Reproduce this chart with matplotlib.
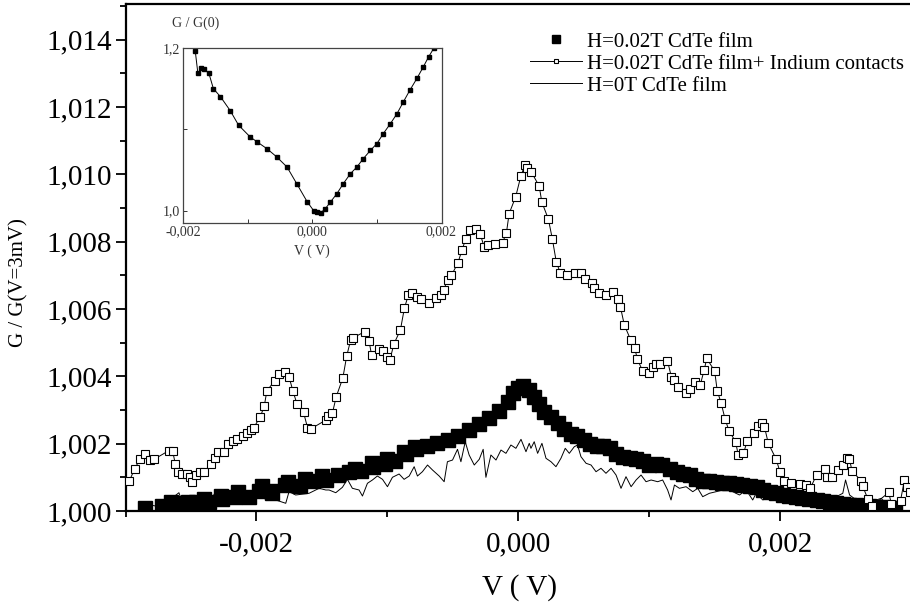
import matplotlib
matplotlib.use('Agg')
import matplotlib.pyplot as plt
from matplotlib.ticker import MultipleLocator, FixedLocator, FuncFormatter

plt.rcParams['font.family'] = ['Liberation Serif', 'DejaVu Serif']

# H=0.02T CdTe film (dense filled squares)
v_film = [-0.00285, -0.00272, -0.00265, -0.00264, -0.00257, -0.00252, -0.00246, -0.0024,
          -0.00236, -0.00227, -0.00226, -0.00216, -0.00214, -0.00206, -0.00198, -0.00196,
          -0.00189, -0.00188, -0.00178, -0.00176, -0.00167, -0.00163, -0.00157, -0.0015,
          -0.00147, -0.00138, -0.00129, -0.00125, -0.0012, -0.00112, -0.00111, -0.00102,
          -0.001, -0.00094, -0.00087, -0.00086, -0.00079, -0.00078, -0.0007, -0.00062,
          -0.00054, -0.00046, -0.00038, -0.0003, -0.00022, -0.00015, -0.00008, -0.00004,
          0.0, 0.00004, 0.00008, 0.00012, 0.00016, 0.0002, 0.00025, 0.0003, 0.00035,
          0.0004, 0.00045, 0.0005, 0.00055, 0.0006, 0.00065, 0.0007, 0.00075, 0.0008,
          0.00085, 0.0009, 0.00095, 0.001, 0.00105, 0.0011, 0.00116, 0.00121, 0.00126,
          0.00131, 0.00136, 0.00141, 0.00146, 0.00151, 0.00156, 0.00161, 0.00166, 0.00171,
          0.00177, 0.00182, 0.00187, 0.00192, 0.00197, 0.00202, 0.00207, 0.00212, 0.00217,
          0.00222, 0.00228, 0.00233, 0.00238, 0.00243, 0.00248, 0.00253, 0.00258, 0.00263,
          0.00268, 0.00273, 0.00278, 0.00284, 0.00288]
g_film = [1.00009, 1.00016, 1.00027, 1.00025, 1.00021, 1.00027, 1.00028, 1.00036,
          1.00027, 1.00045, 1.00037, 1.00043, 1.00056, 1.00042, 1.0006, 1.00075,
          1.0006, 1.00053, 1.00077, 1.00086, 1.00075, 1.00095, 1.0009, 1.00105,
          1.00092, 1.00108, 1.00115, 1.00125, 1.00118, 1.00144, 1.0013, 1.0014,
          1.00154, 1.00148, 1.00174, 1.0017, 1.00189, 1.00185, 1.00192, 1.00202,
          1.00212, 1.00222, 1.0024, 1.00258, 1.00275, 1.00298, 1.00325, 1.0035,
          1.00365, 1.0037, 1.0036, 1.0034, 1.00318, 1.00295, 1.00278, 1.00262, 1.00245,
          1.0023, 1.00222, 1.00212, 1.002, 1.00194, 1.00192, 1.00186, 1.0017, 1.0016,
          1.00158, 1.00155, 1.0015, 1.00138, 1.0014, 1.00137, 1.00125, 1.00115, 1.0011,
          1.00107, 1.00095, 1.0009, 1.0009, 1.00087, 1.00084, 1.00082, 1.0008, 1.00077,
          1.00073, 1.0007, 1.00063, 1.00057, 1.00052, 1.00048, 1.00044, 1.00041, 1.00038,
          1.00036, 1.00033, 1.0003, 1.00027, 1.00025, 1.00022, 1.00019, 1.00017, 1.00016,
          1.00014, 1.00012, 1.00011, 1.0001, 1.00008]

# H=0.02T CdTe film + Indium contacts (open squares)
v_indium = [-0.00297, -0.00293, -0.00289, -0.00285, -0.00281, -0.00278, -0.00267, -0.00264,
            -0.00262, -0.0026, -0.00257, -0.00253, -0.00251, -0.00249, -0.00246, -0.00243,
            -0.0024, -0.00235, -0.00232, -0.00229, -0.00225, -0.00222, -0.00218, -0.00215,
            -0.0021, -0.00207, -0.00204, -0.00202, -0.00197, -0.00194, -0.00192, -0.00186,
            -0.00183, -0.00178, -0.00175, -0.00172, -0.00169, -0.00164, -0.00161, -0.00158,
            -0.00147, -0.00145, -0.00142, -0.00139, -0.00134, -0.00131, -0.00128, -0.00126,
            -0.00117, -0.00114, -0.00112, -0.00106, -0.00103, -0.001, -0.00098, -0.00095,
            -0.0009, -0.00087, -0.00084, -0.00081, -0.00077, -0.00074, -0.00068, -0.00063,
            -0.00059, -0.00057, -0.00054, -0.00051, -0.00046, -0.00043, -0.0004, -0.00037,
            -0.00032, -0.00029, -0.00026, -0.00023, -0.00018, -0.00012, -0.00009, -0.00007,
            -0.00002, 0.00002, 0.00005, 0.00007, 0.0001, 0.00016, 0.00018, 0.00023, 0.00026,
            0.00029, 0.00032, 0.00037, 0.00043, 0.00048, 0.00051, 0.00056, 0.00058, 0.00062,
            0.00067, 0.00072, 0.00076, 0.00078, 0.00081, 0.00086, 0.00089, 0.00091, 0.00095,
            0.001, 0.00103, 0.00105, 0.00108, 0.00114, 0.00117, 0.00119, 0.00122, 0.00128,
            0.00131, 0.00135, 0.00139, 0.00142, 0.00144, 0.0015, 0.00152, 0.00155, 0.00158,
            0.00161, 0.00166, 0.00168, 0.00172, 0.00175, 0.0018, 0.00183, 0.00186, 0.00188,
            0.00191, 0.00197, 0.002, 0.00203, 0.00208, 0.00215, 0.0022, 0.00223, 0.00228,
            0.00234, 0.00236, 0.0024, 0.00244, 0.00248, 0.00251, 0.00253, 0.00255, 0.00262,
            0.00263, 0.00267, 0.0027, 0.00283, 0.00285, 0.00292, 0.00295, 0.00297, 0.00299]
g_indium = [1.0009, 1.00125, 1.00154, 1.00169, 1.00152, 1.00154, 1.00179, 1.00179,
            1.0014, 1.00115, 1.0011, 1.0011, 1.001, 1.00087, 1.00107, 1.00115,
            1.00115, 1.0014, 1.00156, 1.00174, 1.00176, 1.00199, 1.00209, 1.00214,
            1.00222, 1.00231, 1.00241, 1.00248, 1.0028, 1.00312, 1.00357, 1.00387,
            1.00407, 1.00412, 1.00397, 1.00355, 1.00318, 1.00293, 1.00248, 1.00245,
            1.0027, 1.00283, 1.0029, 1.0034, 1.00395, 1.00461, 1.00508, 1.00515,
            1.00533, 1.00505, 1.00463, 1.00481, 1.00474, 1.00456, 1.00449, 1.00496,
            1.00538, 1.00602, 1.00641, 1.00647, 1.00637, 1.00629, 1.00619, 1.00632,
            1.00641, 1.00657, 1.00686, 1.007, 1.00738, 1.00775, 1.00809, 1.00834,
            1.00839, 1.00822, 1.00784, 1.0079, 1.00792, 1.00797, 1.00827, 1.00883,
            1.00933, 1.00995, 1.01027, 1.0102, 1.01007, 1.00965, 1.00918, 1.00867, 1.00809,
            1.00741, 1.00708, 1.00701, 1.00708, 1.00706, 1.0069, 1.00677, 1.00661, 1.00649,
            1.00641, 1.00651, 1.00631, 1.00607, 1.00553, 1.00507, 1.00483, 1.00451, 1.00416,
            1.00409, 1.00428, 1.00436, 1.00438, 1.00446, 1.00398, 1.0039, 1.00367, 1.0035,
            1.00362, 1.00382, 1.00374, 1.00419, 1.00453, 1.00416, 1.00357, 1.0032, 1.00273,
            1.00238, 1.00206, 1.00167, 1.00171, 1.00209, 1.00231, 1.00253, 1.00261, 1.00251,
            1.00201, 1.00154, 1.00115, 1.0009, 1.00083, 1.0008, 1.00077, 1.00067, 1.00108,
            1.00125, 1.00102, 1.00102, 1.00123, 1.00137, 1.00156, 1.00154, 1.00118, 1.0009,
            1.00075, 1.00036, 1.00014, 1.00055, 1.00021, 1.00031, 1.00092, 1.0007, 1.00055]

# H=0T CdTe film (thin noisy line)
v_zero = [-0.002846, -0.00277, -0.002693, -0.002592, -0.002567, -0.002464, -0.002362, -0.002307,
          -0.002261, -0.002158, -0.002031, -0.001955, -0.001852, -0.001776, -0.001751, -0.0017,
          -0.001598, -0.001521, -0.00147, -0.001445, -0.001394, -0.001343, -0.001305, -0.001267,
          -0.001216, -0.00119, -0.001152, -0.001114, -0.001076, -0.001037, -0.000999, -0.000961,
          -0.00091, -0.000872, -0.000833, -0.000795, -0.00077, -0.000732, -0.000693, -0.000655,
          -0.000604, -0.000566, -0.000541, -0.000502, -0.000464, -0.000438, -0.000405, -0.000375,
          -0.000336, -0.000298, -0.000268, -0.000247, -0.000209, -0.00017, -0.000132, -0.000094,
          -0.000056, -0.000018, 0.000021, 0.000059, 0.000084, 0.000097, 0.000122, 0.000148,
          0.000181, 0.000212, 0.00025, 0.000288, 0.000326, 0.000359, 0.00039, 0.000428,
          0.000453, 0.000479, 0.000518, 0.000556, 0.000594, 0.000632, 0.00067, 0.000709,
          0.000747, 0.000785, 0.000823, 0.000862, 0.0009, 0.000938, 0.000976, 0.001015,
          0.001065, 0.001103, 0.001141, 0.001167, 0.001193, 0.001231, 0.001282, 0.001333,
          0.001371, 0.001409, 0.00146, 0.001511, 0.001562, 0.001613, 0.001638, 0.00169,
          0.001741, 0.001791, 0.001817, 0.001868, 0.001919, 0.00197, 0.002072, 0.002171,
          0.002271, 0.002378, 0.002429, 0.002479, 0.0025, 0.002531, 0.002582, 0.002684,
          0.002735, 0.002773, 0.002811, 0.002862]
g_zero = [1.000208, 1.000148, 1.000229, 1.000543, 1.000276, 1.000229, 1.000178, 1.000624,
          1.000327, 1.000276, 1.000407, 1.000475, 1.000327, 1.000229, 1.000573, 1.000475,
          1.000526, 1.000674, 1.000624, 1.000624, 1.000543, 1.000704, 1.000941, 1.000674,
          1.000624, 1.000445, 1.000823, 1.000921, 1.001039, 1.000941, 1.000722, 1.001001,
          1.001099, 1.000941, 1.001039, 1.001316, 1.001039, 1.001167, 1.001366, 1.001218,
          1.001039, 1.00087, 1.001464, 1.001514, 1.001832, 1.001464, 1.002058, 1.001663,
          1.001366, 1.001535, 1.001832, 1.001001, 1.001663, 1.001514, 1.001811, 1.001713,
          1.00196, 1.001862, 1.002129, 1.001761, 1.00201, 1.001862, 1.002058, 1.001713,
          1.00201, 1.001565, 1.001464, 1.001316, 1.001565, 1.001862, 1.001713, 1.001909,
          1.00196, 1.001613, 1.001417, 1.001366, 1.001167, 1.001268, 1.00112, 1.001268,
          1.001069, 1.000674, 1.001019, 1.000722, 1.000921, 1.001069, 1.00087, 1.000921,
          1.00087, 1.000921, 1.000624, 1.000327, 1.000772, 1.000674, 1.000722, 1.000573,
          1.000674, 1.000425, 1.000526, 1.000573, 1.000624, 1.000644, 1.000573, 1.000475,
          1.000624, 1.000327, 1.000526, 1.000327, 1.000425, 1.000327, 1.000356, 1.000297,
          1.000267, 1.000327, 1.000425, 1.000526, 1.000921, 1.000475, 1.000327, 1.000229,
          1.000327, 1.000377, 1.000178, 1.000128]

# inset: G / G(0)
v_inset = [-0.00181, -0.00177, -0.00172, -0.00168, -0.0016, -0.00153, -0.00142, -0.00127,
           -0.00114, -0.00096, -0.00085, -0.0007, -0.00055, -0.00039, -0.00024, -0.00008,
           0.00002, 0.00008, 0.00013, 0.0002, 0.00028, 0.00038, 0.00048, 0.00059, 0.00069,
           0.00079, 0.0009, 0.001, 0.0011, 0.00121, 0.00131, 0.00141, 0.00151, 0.00162,
           0.00172, 0.0018, 0.00188]
g_inset = [1.196, 1.169, 1.175, 1.174, 1.169, 1.150, 1.140, 1.123,
           1.105, 1.0905, 1.0843, 1.076, 1.066, 1.0535, 1.033, 1.011,
           1.0, 0.998, 0.997, 1.002, 1.0103, 1.0206, 1.033, 1.0453, 1.0535,
           1.0638, 1.074, 1.0823, 1.0947, 1.107, 1.119, 1.1337, 1.148, 1.1626,
           1.177, 1.189, 1.1996]


def comma_fmt(decimals):
    def f(v, pos):
        s = '%.*f' % (decimals, v)
        if s.startswith('-') and float(s) == 0:
            s = s[1:]
        return s.replace('.', ',')
    return FuncFormatter(f)


fig = plt.figure(figsize=(9.1, 6.05), dpi=100, facecolor='white')
ax = fig.add_axes([125.5 / 910, 94 / 605, 785.5 / 910, 507 / 605])

ax.plot(v_film, g_film, linestyle='none', marker='s', ms=9.5, color='black',
        mec='black', label='H=0.02T CdTe film', zorder=2)
ax.plot(v_zero, g_zero, '-', color='black', lw=0.7, label='H=0T CdTe film', zorder=3)
ax.plot(v_indium, g_indium, '-', color='black', lw=0.7, marker='s', ms=5.2,
        mfc='white', mec='black', mew=0.8,
        label='H=0.02T CdTe film+ Indium contacts', zorder=4)

ax.set_xlim(-0.003, 0.003)
ax.set_ylim(1.0, 1.01506)
ax.xaxis.set_major_locator(MultipleLocator(0.002))
ax.xaxis.set_minor_locator(MultipleLocator(0.001))
ax.yaxis.set_major_locator(MultipleLocator(0.002))
ax.yaxis.set_minor_locator(MultipleLocator(0.001))
ax.xaxis.set_major_formatter(comma_fmt(3))
ax.yaxis.set_major_formatter(comma_fmt(3))
ax.tick_params(which='major', direction='out', length=7, width=1.3, labelsize=21, pad=3)
ax.tick_params(which='minor', direction='out', length=4, width=1.3)
ax.tick_params(axis='x', which='major', pad=8)
for side in ['left', 'bottom', 'top']:
    ax.spines[side].set_linewidth(1.6)
ax.spines['right'].set_visible(False)

ax.set_xlabel('V ( V)', fontsize=21)
ax.xaxis.set_label_coords(0.501, -0.124)
ax.set_ylabel('G / G(V=3mV)', fontsize=15)
ax.yaxis.set_label_coords(-0.124, 0.45)

# legend in reference order
h, l = ax.get_legend_handles_labels()
order = [0, 2, 1]
leg = ax.legend([h[i] for i in order], [l[i] for i in order], loc='upper left',
                bbox_to_anchor=(530 / 910, 1 - 32 / 605), bbox_transform=fig.transFigure,
                frameon=False, fontsize=15, handlelength=2.5, handletextpad=0.25,
                labelspacing=0.12, borderpad=0, borderaxespad=0, numpoints=1)
leg.legend_handles[0].set_markersize(6)
leg.legend_handles[1].set_markersize(3.5)

# inset
ins = fig.add_axes([183 / 910, (605 - 222.7) / 605, 258.5 / 910, 174.7 / 605])
ins.plot(v_inset, g_inset, '-', color='black', lw=0.7, marker='s', ms=2.2)
ins.set_xlim(-0.002, 0.002)
ins.set_ylim(0.985, 1.2)
ins.xaxis.set_major_locator(FixedLocator([-0.002, 0.0, 0.002]))
ins.xaxis.set_minor_locator(FixedLocator([-0.001, 0.001]))
ins.yaxis.set_major_locator(FixedLocator([1.0, 1.2]))
ins.yaxis.set_minor_locator(FixedLocator([1.1]))
ins.xaxis.set_major_formatter(comma_fmt(3))
ins.yaxis.set_major_formatter(comma_fmt(1))
ins.tick_params(which='both', direction='in', length=3, width=0.7, labelsize=10,
                colors='#333333', pad=2)
for s in ins.spines.values():
    s.set_linewidth(0.9)
    s.set_color('#444444')
ins.set_xlabel('V ( V)', fontsize=10, color='#333333', labelpad=4)
fig.text(196 / 910, 1 - 23 / 605, 'G / G(0)', fontsize=10, color='#333333',
         ha='center', va='center')

fig.savefig('out.png', dpi=100, facecolor='white')
